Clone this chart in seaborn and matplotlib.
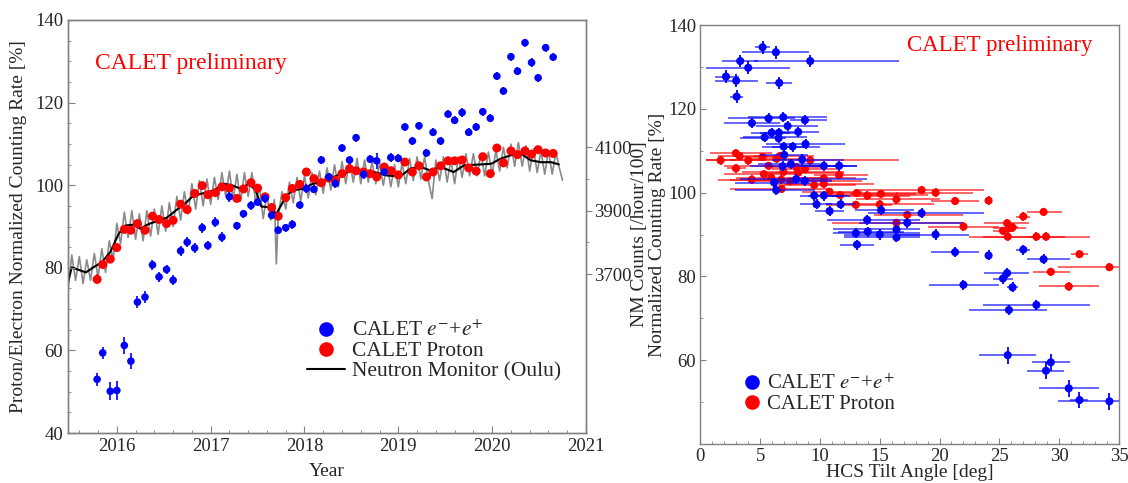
import matplotlib
matplotlib.use("Agg")
import matplotlib.pyplot as plt
from matplotlib.lines import Line2D
from matplotlib.ticker import MultipleLocator, FixedLocator
import numpy as np
import pandas as pd
import seaborn as sns

# ---- left panel: CALET 27-day bins ----
cr_year = [2015.79, 2015.85, 2015.93, 2016.00, 2016.08, 2016.15, 2016.22, 2016.30, 2016.38, 2016.45,
           2016.53, 2016.60, 2016.68, 2016.75, 2016.83, 2016.91, 2016.97, 2017.05, 2017.12, 2017.20,
           2017.28, 2017.35, 2017.43, 2017.50, 2017.58, 2017.65, 2017.72, 2017.80, 2017.87, 2017.95,
           2018.02, 2018.10, 2018.18, 2018.26, 2018.33, 2018.40, 2018.48, 2018.55, 2018.63, 2018.70,
           2018.77, 2018.85, 2018.92, 2019.00, 2019.07, 2019.15, 2019.22, 2019.30, 2019.37, 2019.45,
           2019.53, 2019.60, 2019.68, 2019.75, 2019.83, 2019.90, 2019.98, 2020.05, 2020.12, 2020.20,
           2020.27, 2020.35, 2020.42, 2020.49, 2020.57, 2020.65]
el_rate = [53.0, 59.4, 50.1, 50.3, 61.2, 57.4, 71.7, 72.9, 80.7, 77.8,
           79.6, 77.0, 84.1, 86.2, 84.8, 89.7, 85.4, 91.0, 87.4, 97.2,
           90.2, 93.1, 95.1, 95.9, 96.8, 92.7, 89.1, 89.7, 90.5, 95.2,
           99.2, 99.0, 106.1, 102.0, 100.4, 109.0, 106.1, 111.5, 102.6, 106.3,
           105.9, 103.2, 106.7, 106.5, 114.1, 110.7, 114.4, 107.8, 112.8, 110.7,
           117.2, 115.7, 117.6, 112.8, 114.1, 117.8, 116.2, 126.4, 122.8, 131.1,
           127.6, 134.5, 129.7, 126.0, 133.3, 131.0]
el_err = [1.5, 1.5, 2.2, 2.2, 2.0, 2.0, 1.4, 1.4, 1.2, 1.2,
          1.2, 1.2, 1.2, 1.2, 1.2, 1.2, 1.2, 1.2, 1.2, 1.2,
          1.0, 1.0, 1.0, 1.0, 1.0, 1.0, 1.0, 1.0, 1.0, 1.0,
          1.0, 1.0, 1.0, 1.0, 1.0, 1.0, 1.0, 1.0, 1.0, 1.0,
          2.0, 1.0, 1.0, 1.0, 1.0, 1.0, 1.0, 1.0, 1.0, 1.0,
          1.0, 1.0, 1.0, 1.0, 1.0, 1.0, 1.0, 1.0, 1.0, 1.0,
          1.0, 1.0, 1.0, 1.0, 1.0, 1.0]
pr_rate = [77.2, 80.8, 82.1, 84.9, 89.3, 89.1, 90.7, 89.1, 92.5, 91.7,
           90.7, 91.5, 95.4, 94.1, 98.0, 99.9, 97.7, 98.2, 99.6, 99.3,
           96.8, 99.1, 100.6, 99.3, 97.2, 94.6, 92.5, 97.0, 99.2, 100.2,
           103.2, 101.6, 100.6, 101.7, 101.2, 102.8, 104.0, 103.5, 103.2, 102.8,
           102.0, 104.4, 103.5, 102.5, 105.6, 103.2, 104.7, 102.0, 103.2, 104.7,
           105.9, 105.9, 106.1, 104.2, 103.4, 106.9, 102.8, 109.0, 105.4, 108.3,
           107.4, 108.3, 107.5, 108.6, 107.8, 107.7]
pr_err = [1.2, 1.0, 1.0, 1.0, 0.8, 0.8] + [0.6] * 60

# Oulu neutron monitor (counts /hour/100): 27-day average and daily
nm_avg_year = [2015.48, 2015.52, 2015.67, 2015.75, 2015.84, 2015.93, 2016.02, 2016.09, 2016.18, 2016.25,
               2016.34, 2016.45, 2016.54, 2016.63, 2016.72, 2016.80, 2016.89, 2016.98, 2017.05, 2017.14,
               2017.23, 2017.32, 2017.41, 2017.48, 2017.54, 2017.62, 2017.70, 2017.80, 2017.87, 2017.98,
               2018.09, 2018.16, 2018.35, 2018.52, 2018.74, 2018.88, 2019.02, 2019.13, 2019.24, 2019.34,
               2019.45, 2019.59, 2019.70, 2019.88, 2019.99, 2020.09, 2020.23, 2020.31, 2020.41, 2020.52,
               2020.63, 2020.71]
nm_avg_counts = [3674, 3721, 3705, 3721, 3737, 3769, 3827, 3853, 3856, 3843,
                 3858, 3869, 3879, 3901, 3920, 3943, 3953, 3959, 3966, 3985,
                 3980, 3969, 3985, 3964, 3913, 3911, 3890, 3943, 3964, 3969,
                 3985, 3988, 4011, 4027, 4022, 4011, 4008, 4033, 4038, 4027,
                 4038, 4022, 4043, 4046, 4048, 4064, 4078, 4080, 4059, 4053,
                 4053, 4046]
nm_daily_year = [2015.48, 2015.52, 2015.56, 2015.60, 2015.64, 2015.68, 2015.72, 2015.76, 2015.80, 2015.84,
                 2015.88, 2015.92, 2015.96, 2016.00, 2016.04, 2016.08, 2016.12, 2016.16, 2016.20, 2016.24,
                 2016.28, 2016.32, 2016.36, 2016.40, 2016.44, 2016.48, 2016.52, 2016.56, 2016.60, 2016.64,
                 2016.68, 2016.72, 2016.76, 2016.80, 2016.84, 2016.88, 2016.92, 2016.96, 2017.00, 2017.04,
                 2017.08, 2017.12, 2017.16, 2017.20, 2017.24, 2017.28, 2017.32, 2017.36, 2017.40, 2017.44,
                 2017.48, 2017.52, 2017.56, 2017.60, 2017.64, 2017.68, 2017.70, 2017.72, 2017.76, 2017.80,
                 2017.84, 2017.88, 2017.92, 2017.96, 2018.00, 2018.04, 2018.08, 2018.12, 2018.16, 2018.20,
                 2018.24, 2018.28, 2018.32, 2018.36, 2018.40, 2018.44, 2018.48, 2018.52, 2018.56, 2018.60,
                 2018.64, 2018.68, 2018.72, 2018.76, 2018.80, 2018.84, 2018.88, 2018.92, 2018.96, 2019.00,
                 2019.04, 2019.08, 2019.12, 2019.16, 2019.20, 2019.24, 2019.28, 2019.32, 2019.36, 2019.40,
                 2019.44, 2019.48, 2019.52, 2019.56, 2019.60, 2019.64, 2019.68, 2019.72, 2019.76, 2019.80,
                 2019.84, 2019.88, 2019.92, 2019.96, 2020.00, 2020.04, 2020.08, 2020.12, 2020.16, 2020.20,
                 2020.24, 2020.28, 2020.32, 2020.36, 2020.40, 2020.44, 2020.48, 2020.52, 2020.56, 2020.60,
                 2020.64, 2020.68, 2020.72, 2020.75]
nm_daily_counts = [3650, 3760, 3680, 3755, 3670, 3745, 3680, 3765, 3690, 3780,
                   3705, 3805, 3745, 3860, 3795, 3895, 3815, 3900, 3810, 3890,
                   3805, 3900, 3820, 3905, 3825, 3915, 3835, 3925, 3850, 3945,
                   3870, 3960, 3890, 3985, 3905, 3995, 3915, 4000, 3920, 4005,
                   3935, 4020, 3945, 4025, 3935, 4015, 3930, 4020, 3945, 4020,
                   3925, 3975, 3875, 3950, 3870, 3935, 3732, 3880, 3960, 3905,
                   3990, 3925, 4005, 3930, 4010, 3940, 4020, 3950, 4025, 3955,
                   4035, 3965, 4045, 3975, 4055, 3985, 4060, 3990, 4065, 3985,
                   4060, 3990, 4055, 3985, 4050, 3980, 4045, 3975, 4045, 3975,
                   4050, 3985, 4065, 3995, 4070, 4000, 4070, 3995, 3938, 4060,
                   3995, 4070, 3990, 4060, 3985, 4070, 4005, 4080, 4010, 4080,
                   4010, 4080, 4010, 4085, 4015, 4090, 4025, 4100, 4035, 4110,
                   4040, 4115, 4040, 4105, 4025, 4095, 4020, 4090, 4015, 4090,
                   4015, 4085, 4030, 3996]

# ---- right panel: rate vs HCS tilt angle ----
el_tilt = [5.21, 6.32, 3.34, 9.19, 4.01, 2.15, 3.0, 6.6, 3.04, 4.32,
           5.71, 6.94, 8.75, 7.30, 5.38, 5.96, 6.57, 6.55, 8.19, 8.8,
           6.97, 7.72, 7.02, 6.88, 7.58, 8.52, 10.33, 11.61, 8.0, 8.72,
           6.18, 6.35, 9.52, 10.33, 9.72, 11.73, 10.81, 15.12, 13.95, 16.4,
           17.3, 13.0, 14.0, 15.0, 16.4, 13.1, 18.5, 19.67, 21.3, 24.1,
           27.0, 28.7, 25.65, 25.3, 26.1, 22.0, 28.1, 25.8, 25.7, 29.3,
           28.9, 30.8, 31.7, 34.2]
el_tilt_lo = [4.6, 3.5, 1.8, 4.5, 0.5, 1.2, 1.2, 5.5, 2.5, 2.0,
              2.3, 4.0, 7.5, 4.65, 3.6, 4.2, 5.0, 3.3, 6.6, 5.5,
              5.2, 6.0, 5.0, 4.15, 4.8, 6.0, 8.3, 9.5, 3.3, 6.0,
              2.9, 2.9, 8.3, 9.0, 8.3, 10.5, 9.6, 12.9, 10.6, 11.1,
              13.3, 11.1, 11.5, 12.0, 12.0, 11.7, 14.0, 16.5, 19.3, 23.8,
              26.4, 27.3, 23.7, 24.5, 25.6, 19.1, 23.6, 22.5, 23.3, 27.7,
              27.3, 28.3, 30.9, 29.9]
el_tilt_hi = [5.8, 9.1, 4.8, 16.6, 7.5, 3.2, 4.8, 7.7, 3.6, 6.7,
              7.9, 10.6, 10.6, 9.85, 8.9, 7.5, 8.0, 7.2, 9.9, 12.1,
              8.9, 10.0, 9.0, 12.2, 10.0, 12.0, 13.1, 13.1, 13.9, 11.0,
              9.2, 9.6, 12.0, 12.5, 11.0, 13.0, 12.0, 17.9, 18.4, 18.4,
              21.9, 18.4, 17.0, 18.4, 18.4, 14.5, 23.7, 22.5, 23.3, 24.4,
              27.6, 30.9, 27.5, 26.1, 26.6, 25.0, 32.6, 29.0, 28.1, 30.9,
              30.4, 33.3, 32.4, 35.0]
el_tilt_rate = [134.7, 133.5, 131.4, 131.4, 129.8, 127.7, 126.7, 126.2, 122.9, 116.6,
                117.7, 118.0, 117.3, 115.9, 113.2, 114.3, 114.3, 113.0, 114.5, 111.6,
                111.0, 111.0, 109.0, 106.3, 106.8, 107.9, 106.4, 106.4, 103.2, 102.8,
                102.4, 100.6, 99.3, 99.3, 97.2, 97.2, 95.6, 95.8, 93.5, 91.2,
                92.8, 90.3, 90.7, 90.0, 89.3, 87.6, 95.1, 90.0, 85.8, 85.0,
                86.4, 84.1, 80.8, 79.5, 77.4, 78.0, 73.2, 72.0, 61.2, 59.5,
                57.5, 53.3, 50.5, 50.2]
el_tilt_err = [1.5] * 9 + [1.2] * 49 + [2.0] * 6

pr_tilt = [1.7, 2.98, 3.29, 4.01, 2.98, 5.21, 6.38, 6.63, 5.71, 9.19,
           4.3, 5.32, 5.93, 6.77, 6.96, 7.52, 8.16, 8.05, 8.75, 10.33,
           10.33, 11.6, 9.52, 6.8, 10.8, 11.7, 13.07, 13.97, 15.1, 16.4,
           13.0, 15.0, 17.3, 16.4, 18.5, 19.67, 21.3, 24.1, 22.0, 27.0,
           28.7, 25.65, 25.3, 25.8, 26.1, 25.7, 28.1, 28.9, 31.7, 29.3,
           34.2, 30.8]
pr_tilt_lo = [0.5, 0.8, 1.5, 2.5, 2.2, 3.5, 4.0, 4.5, 2.0, 0.5,
              1.5, 2.0, 3.0, 2.5, 3.5, 4.0, 5.0, 5.5, 6.0, 8.0,
              7.0, 9.5, 6.5, 2.5, 8.5, 9.5, 10.5, 11.0, 12.5, 13.0,
              10.5, 12.0, 14.5, 11.0, 13.3, 16.4, 19.3, 23.8, 19.0, 26.4,
              27.3, 23.7, 24.5, 24.5, 25.6, 22.5, 23.6, 27.5, 31.0, 27.8,
              29.9, 28.3]
pr_tilt_hi = [3.0, 6.0, 5.5, 5.5, 3.8, 7.0, 8.5, 9.5, 9.5, 16.6,
              7.5, 8.5, 10.5, 11.0, 12.0, 13.5, 12.0, 10.5, 11.5, 13.0,
              14.5, 14.0, 13.0, 11.0, 13.5, 19.0, 16.5, 17.5, 18.0, 20.0,
              16.0, 19.5, 22.0, 22.0, 23.7, 22.8, 23.3, 24.4, 25.0, 27.6,
              30.2, 27.5, 26.1, 27.2, 26.6, 28.9, 32.6, 30.5, 32.4, 30.9,
              35.0, 33.3]
pr_tilt_rate = [107.7, 109.4, 108.7, 107.7, 105.8, 108.5, 108.1, 108.7, 106.4, 107.7,
                103.1, 104.4, 103.6, 103.1, 105.0, 102.7, 104.7, 106.0, 105.6, 103.4,
                102.1, 104.2, 101.8, 100.9, 100.2, 99.4, 99.9, 99.3, 99.7, 98.4,
                97.1, 97.2, 94.7, 92.8, 100.6, 100.0, 98.0, 98.1, 91.9, 94.3,
                95.4, 92.7, 90.9, 91.5, 91.7, 89.5, 89.5, 89.5, 85.3, 81.1,
                82.2, 77.6]
pr_tilt_err = [1.0] * 52

BLUE = "#0000ff"
RED = "#ff0000"
GRAY_SPINE = "#808080"

sns.set_style("white")
plt.rcParams['font.family'] = ['Liberation Serif', 'DejaVu Serif']
plt.rcParams['mathtext.fontset'] = 'stix'

fig = plt.figure(figsize=(11.28, 4.83), dpi=100)
ax1 = fig.add_axes([0.0603, 0.1035, 0.4592, 0.8551])
axn = ax1.twinx()

# neutron monitor behind the CALET points
nm_daily = pd.DataFrame({"year": nm_daily_year, "counts": nm_daily_counts})
nm_avg = pd.DataFrame({"year": nm_avg_year, "counts": nm_avg_counts})
sns.lineplot(data=nm_daily, x="year", y="counts", ax=axn, color="#8a8a8a", lw=1.2, sort=False)
sns.lineplot(data=nm_avg, x="year", y="counts", ax=axn, color="black", lw=1.5)
axn.set_ylim(3198, 4502)
axn.set_ylabel("")
axn.yaxis.set_major_locator(FixedLocator([3700, 3900, 4100]))
axn.yaxis.set_minor_locator(FixedLocator([3800, 4000]))
axn.tick_params(axis="y", which="both", direction="out", labelsize=13.5, length=4,
                color=GRAY_SPINE, pad=2)
axn.tick_params(axis="y", which="minor", length=2.5)
ax1.set_zorder(axn.get_zorder() + 1)
ax1.patch.set_visible(False)

cal = pd.DataFrame({"year": cr_year, "el": el_rate, "el_err": el_err, "pr": pr_rate, "pr_err": pr_err})
ax1.errorbar(cal["year"], cal["pr"], yerr=cal["pr_err"], fmt="none", ecolor=RED, elinewidth=1.2, zorder=3)
sns.scatterplot(data=cal, x="year", y="pr", ax=ax1, color=RED, s=42, edgecolor="none", zorder=4)
ax1.errorbar(cal["year"], cal["el"], yerr=cal["el_err"], fmt="none", ecolor=BLUE, elinewidth=1.2, zorder=5)
sns.scatterplot(data=cal, x="year", y="el", ax=ax1, color=BLUE, s=30, edgecolor="none", zorder=6)

ax1.set_xlim(2015.48, 2021)
ax1.set_ylim(40, 140)
ax1.xaxis.set_major_locator(MultipleLocator(1))
ax1.xaxis.set_minor_locator(MultipleLocator(0.2))
ax1.yaxis.set_major_locator(MultipleLocator(20))
ax1.yaxis.set_minor_locator(MultipleLocator(5))
ax1.tick_params(which="both", direction="in", labelsize=13.5, color=GRAY_SPINE,
                bottom=True, left=True, top=False, right=False)
ax1.tick_params(which="major", length=5)
ax1.tick_params(which="minor", length=2.5)
ax1.set_xlabel("Year", fontsize=14, labelpad=6)
ax1.set_ylabel("Proton/Electron Normalized Counting Rate [%]", fontsize=14, labelpad=6)
for a in (ax1, axn):
    for sp in a.spines.values():
        sp.set_color(GRAY_SPINE)
        sp.set_linewidth(1.0)
ax1.text(0.052, 0.895, "CALET preliminary", color=RED, fontsize=17,
         transform=ax1.transAxes, va="center", ha="left")

h_el = Line2D([], [], ls="none", marker="o", ms=9.5, color=BLUE)
h_pr = Line2D([], [], ls="none", marker="o", ms=9.5, color=RED)
h_nm = Line2D([], [], color="black", lw=1.5)
ax1.legend([h_el, h_pr, h_nm],
           [r"CALET $e^{-}$+$e^{+}$", "CALET Proton", "Neutron Monitor (Oulu)"],
           loc="upper left", bbox_to_anchor=(0.440, 0.298), frameon=False, fontsize=15.5,
           handlelength=1.8, handletextpad=0.3, labelspacing=0.0, borderpad=0)

# ---- right panel ----
ax2 = fig.add_axes([0.6208, 0.0807, 0.3712, 0.8675])
el_t = pd.DataFrame({"tilt": el_tilt, "lo": el_tilt_lo, "hi": el_tilt_hi,
                     "rate": el_tilt_rate, "err": el_tilt_err})
pr_t = pd.DataFrame({"tilt": pr_tilt, "lo": pr_tilt_lo, "hi": pr_tilt_hi,
                     "rate": pr_tilt_rate, "err": pr_tilt_err})

for df, col, zb in ((pr_t, RED, 2), (el_t, BLUE, 4)):
    xerr = [df["tilt"] - df["lo"], df["hi"] - df["tilt"]]
    ax2.errorbar(df["tilt"], df["rate"], xerr=xerr, fmt="none", ecolor=col,
                 elinewidth=1.3, alpha=0.65, zorder=zb)
    ax2.errorbar(df["tilt"], df["rate"], yerr=df["err"], fmt="none", ecolor=col,
                 elinewidth=1.3, zorder=zb + 0.5)
sns.scatterplot(data=pr_t, x="tilt", y="rate", ax=ax2, color=RED, s=34, edgecolor="none", zorder=3)
sns.scatterplot(data=el_t, x="tilt", y="rate", ax=ax2, color=BLUE, s=34, edgecolor="none", zorder=5)

ax2.set_xlim(0, 35)
ax2.set_ylim(40, 140)
ax2.xaxis.set_major_locator(MultipleLocator(5))
ax2.xaxis.set_minor_locator(MultipleLocator(1))
ax2.yaxis.set_major_locator(FixedLocator([60, 80, 100, 120, 140]))
ax2.yaxis.set_minor_locator(MultipleLocator(10))
ax2.tick_params(which="both", labelsize=13.5, color=GRAY_SPINE,
                bottom=True, left=True, top=False, right=False)
ax2.tick_params(axis="x", which="both", direction="in", pad=3)
ax2.tick_params(axis="y", which="both", direction="in", pad=3)
ax2.tick_params(which="major", length=4)
ax2.tick_params(which="minor", length=2.5)
ax2.set_xlabel("HCS Tilt Angle [deg]", fontsize=14, labelpad=-1)
ax2.set_ylabel("NM Counts [/hour/100]\nNormalized Counting Rate [%]", fontsize=14,
               linespacing=1.05)
ax2.yaxis.set_label_coords(-0.083, 0.5)
for sp in ax2.spines.values():
    sp.set_color(GRAY_SPINE)
    sp.set_linewidth(1.0)
ax2.text(0.716, 0.952, "CALET preliminary", color=RED, fontsize=16.5,
         transform=ax2.transAxes, va="center", ha="center")
ax2.legend([h_el, h_pr], [r"CALET $e^{-}$+$e^{+}$", "CALET Proton"],
           loc="upper left", bbox_to_anchor=(0.075, 0.19), frameon=False, fontsize=15,
           handlelength=1.0, handletextpad=0.2, labelspacing=0.0, borderpad=0)

fig.savefig("out.png", dpi=100)
